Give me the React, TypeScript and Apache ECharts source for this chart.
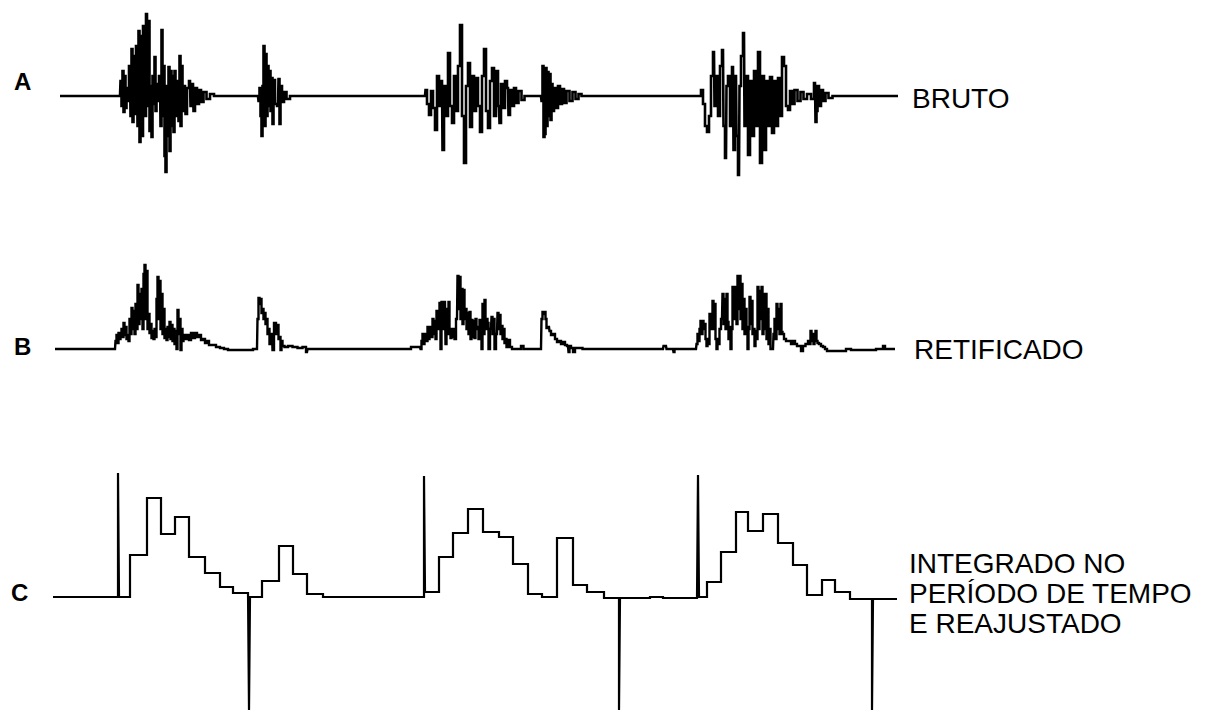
import React, { useEffect, useRef } from "react";
import * as echarts from "echarts";

// Time in ms (x), amplitude in arbitrary units (y)
const traceLetters = ["A", "B", "C"];
const traceTitles = ["BRUTO", "RETIFICADO", "INTEGRADO NO\nPERÍODO DE TEMPO\nE REAJUSTADO"];

// A — raw EMG
const rawBaseStart = [[10, 0], [70, 0]];
const rawBurst1 = [
  [71, 15], [72, -10], [73, 25], [74, -16], [75, 20], [76, -12], [77, 8], [78, -5], [80, 30], [81, -20],
  [82, 47], [83, -26], [84, 40], [85, -18], [87, 50], [88, -30], [89, 65], [90, -46], [91, 60], [92, -40],
  [94, 70], [95, -20], [97, 82], [98, -10], [99, 75], [100, -35], [101, 10], [102, -41], [103, 20], [104, -8],
  [105, 39], [106, -15], [107, 12], [108, -5], [110, 20], [111, -30], [112, 66], [113, -20], [114, 30], [115, -60],
  [116, -76], [117, 10], [118, -40], [119, 29], [120, -55], [121, 25], [122, -30], [123, 20], [124, -36], [125, 25],
  [126, -20], [128, 15], [129, -25], [130, 40], [131, -30], [132, 30], [133, -15], [135, 10], [136, -18], [138, 8],
  [140, 15], [141, -10], [143, 12], [144, -15], [146, 8], [148, -8], [150, 6], [152, -6], [155, 4], [158, -3],
  [162, 2], [166, 0],
];
const rawBurst2 = [
  [208, 0], [209, -5], [210, 8], [211, -20], [212, -40], [213, 10], [214, 50], [215, -30], [216, 42], [217, -20],
  [218, 30], [219, -10], [220, 25], [221, -15], [222, 18], [223, -28], [224, 16], [226, -8], [228, -10], [229, 17],
  [230, -28], [231, 10], [233, -6], [235, 4], [238, -3], [242, 0],
];
const rawBurst3 = [
  [375, 0], [376, 6], [378, -8], [380, -19], [382, 5], [384, -12], [386, -34], [388, 20], [390, -10], [392, 15],
  [393, -54], [395, 10], [397, -20], [399, 43], [401, -10], [403, -27], [405, 20], [407, -15], [409, 30], [411, 71],
  [413, -20], [415, -67], [417, 10], [419, 33], [421, -31], [423, 20], [425, -15], [427, 18], [429, -10], [431, -36],
  [433, 20], [435, 47], [437, -15], [439, -32], [441, 15], [443, 28], [445, -20], [447, 25], [449, -10], [450, -27],
  [452, 12], [454, -12], [456, 15], [458, 8], [459, -19], [461, 6], [463, -10], [465, 8], [467, -7], [470, 5],
  [473, -4], [476, 0],
];
const rawBurst4 = [
  [491, 0], [492, -5], [493, 30], [494, -41], [495, -38], [496, 28], [497, -30], [498, 24], [499, -20], [500, 22],
  [501, -24], [502, 12], [503, -15], [505, 8], [507, -12], [509, 10], [511, -8], [513, 7], [515, -7], [518, 5],
  [521, -5], [524, 4], [527, -3], [530, 2], [533, 0],
];
const rawBurst5 = [
  [650, 0], [652, 6], [654, -8], [656, -30], [658, -36], [660, -20], [662, 20], [664, 44], [665, -10], [667, 20],
  [669, -20], [671, 30], [673, 46], [674, -30], [676, -62], [677, 10], [679, 20], [681, -30], [683, 29], [684, -54],
  [686, 20], [687, -40], [689, -79], [690, 10], [692, 40], [694, 63], [695, -30], [697, 20], [699, -59], [701, 15],
  [703, -40], [705, 25], [707, -30], [709, 44], [711, -67], [713, 20], [715, -54], [717, 15], [719, -30], [721, 19],
  [723, -37], [725, 15], [727, -30], [729, 18], [731, -20], [733, 39], [735, 30], [737, -10], [739, -14], [741, 5],
  [743, -8], [746, 6], [749, -5], [752, 4], [755, -3], [759, 2], [763, -3], [765, 13], [766, -26], [767, -15],
  [768, 10], [770, -10], [772, 6], [774, -5], [777, 3], [780, -2], [785, 0], [848, 0],
];

// B — rectified EMG
const rectBaseStart = [[5, 0], [65, 0]];
const rectBurst1 = [
  [66, 8], [67, 14], [68, 6], [69, 16], [70, 10], [71, 14], [72, 20], [73, 12], [74, 26], [75, 14],
  [76, 22], [77, 10], [78, 14], [79, 8], [80, 30], [81, 15], [82, 41], [83, 20], [84, 38], [85, 15],
  [86, 45], [87, 20], [88, 64], [89, 25], [90, 55], [91, 30], [92, 60], [93, 20], [94, 75], [95, 84],
  [96, 30], [97, 78], [98, 20], [99, 35], [100, 16], [101, 25], [102, 11], [103, 18], [104, 10], [105, 20],
  [106, 12], [107, 50], [108, 72], [109, 30], [110, 68], [111, 20], [112, 55], [113, 15], [114, 40], [115, 11],
  [116, 20], [117, 9], [118, 22], [119, 12], [120, 27], [121, 10], [122, 24], [123, 8], [124, 20], [125, 5],
  [126, 18], [127, 0], [128, 39], [129, 15], [130, 30], [131, -1], [132, 20], [133, 8], [134, 14], [136, 10],
  [138, 14], [140, 9], [142, 16], [144, 11], [146, 16], [148, 12], [150, 14], [152, 9], [154, 10], [156, 6],
  [158, 8], [160, 4], [164, 4], [168, 2], [172, 1], [176, 0], [180, -1], [200, -1], [206, 0],
];
const rectBurst2 = [
  [207, 0], [208, 30], [209, 51], [210, 45], [211, 50], [212, 36], [213, 40], [214, 30], [215, 36], [216, 25],
  [217, 30], [218, 15], [219, 20], [220, 5], [222, 15], [223, -1], [225, 26], [227, 15], [228, 24], [229, 10],
  [230, 12], [231, -1], [232, 8], [233, 3], [236, 2], [240, 3], [245, 2], [250, 1], [255, 2], [257, -3],
  [258, 0], [360, 0],
];
const rectBurst3 = [
  [362, 2], [370, 2], [371, 0], [372, 8], [373, 15], [374, 5], [375, 12], [376, 15], [377, 8], [378, 22],
  [379, 10], [380, 18], [381, 22], [382, 12], [383, 30], [384, 15], [385, 28], [386, 10], [387, 38], [388, 20],
  [389, 30], [390, 46], [391, 0], [392, 47], [393, 20], [395, 47], [396, 5], [397, 40], [398, 15], [399, 47],
  [400, 15], [401, 11], [402, 20], [403, 12], [404, 20], [405, 10], [407, 30], [408, 73], [409, 40], [410, 72],
  [411, 30], [412, 60], [413, 25], [414, 59], [415, 30], [416, 40], [417, 20], [418, 36], [419, 15], [420, 37],
  [421, 10], [422, 29], [423, 12], [424, 28], [425, 11], [426, 30], [427, 20], [428, 22], [429, 10], [430, 29],
  [431, 10], [432, 0], [433, 45], [434, 15], [435, 49], [436, 20], [437, 30], [438, 26], [439, 0], [441, 20],
  [442, 32], [443, 15], [444, 30], [445, 0], [447, 15], [448, 36], [449, 20], [450, 34], [451, 15], [452, 23],
  [453, 10], [454, 20], [455, 6], [456, 10], [457, 2], [459, 9], [461, 2], [463, 0], [470, 0], [472, 3],
  [475, 0], [490, 0],
];
const rectBurst4 = [
  [491, 0], [492, 30], [493, 37], [494, 35], [495, 37], [496, 30], [497, 21], [499, 22], [500, 18], [502, 14],
  [504, 15], [506, 10], [508, 7], [510, 8], [512, 5], [514, 7], [516, 4], [518, 3], [519, -3], [520, 3],
  [522, 1], [524, -3], [526, 1], [530, 1], [535, 0], [613, 0],
];
const rectBurst5 = [
  [614, 3], [616, 3], [617, 0], [623, 0], [624, -3], [625, 0], [646, 0], [647, 5], [648, 15], [649, 8],
  [650, 20], [651, 28], [652, 15], [653, 28], [654, 20], [655, 25], [656, 10], [657, 3], [658, 10], [659, 5],
  [660, 35], [661, 20], [662, 30], [663, 48], [664, 20], [665, 45], [666, 10], [667, 0], [668, 10], [669, 5],
  [670, 20], [672, 30], [673, 55], [674, 25], [675, 50], [676, 20], [677, 55], [678, 27], [679, 10], [680, 22],
  [681, 0], [682, 20], [683, 62], [684, 30], [685, 55], [686, 62], [687, 25], [688, 73], [689, 40], [690, 73],
  [691, 30], [692, 65], [693, 20], [694, 50], [695, 15], [696, 40], [697, 22], [698, 0], [699, 20], [700, 52],
  [701, 25], [702, 48], [703, 15], [704, 20], [705, 3], [706, 18], [707, 10], [708, 62], [709, 20], [710, 58],
  [711, 30], [712, 62], [713, 15], [714, 55], [715, 20], [716, 55], [717, 10], [718, 40], [719, 5], [720, 20],
  [721, 0], [723, 0], [724, 15], [725, 30], [726, 10], [727, 45], [728, 20], [729, 40], [730, 15], [731, 45],
  [732, 17], [733, 15], [735, 10], [737, 8], [740, 8], [742, 5], [744, 8], [746, 5], [748, 3], [750, 3],
  [752, -2], [754, 3], [757, 5], [759, 8], [760, 5], [761, 18], [762, 8], [763, 15], [764, 5], [765, 12],
  [766, 18], [767, 8], [768, 6], [770, 5], [772, 3], [774, 2], [776, 0], [778, -2], [795, -2], [797, 0],
  [805, -1], [820, -1], [832, 0], [834, 3], [836, 0], [845, 0],
];

// C — integrated over time period and reset (step levels with reset spikes)
const integCycle1 = [
  [3, 0], [68, 0], [68, 124], [69, 0], [80, 0], [80, 42], [97, 42], [97, 99], [111, 99], [111, 63],
  [125, 63], [125, 80], [139, 80], [139, 40], [155, 40], [155, 24], [170, 24], [170, 10], [183, 10], [183, 4],
  [198, 4], [199, -113], [200, 0], [212, 0], [212, 16], [229, 16], [229, 51], [243, 51], [243, 23], [257, 23],
  [257, 3], [273, 3], [273, 0],
];
const integCycle2 = [
  [374, 0], [374, 121], [375, 5], [389, 5], [389, 40], [403, 40], [403, 64], [418, 64], [418, 88], [433, 88],
  [433, 65], [449, 65], [449, 60], [463, 60], [463, 33], [478, 33], [478, 3], [492, 3], [492, 0], [507, 0],
  [507, 59], [523, 59], [523, 12], [537, 12], [537, 5], [554, 5], [554, -1], [569, -1], [569, -113], [570, -1],
  [600, -1], [600, 0], [613, 0], [613, -1], [647, -1],
];
const integCycle3 = [
  [648, 122], [649, 0], [657, 0], [657, 15], [671, 15], [671, 45], [686, 45], [686, 85], [698, 85], [698, 66],
  [713, 66], [713, 83], [728, 83], [728, 54], [743, 54], [743, 32], [757, 32], [757, 2], [772, 2], [772, 17],
  [785, 17], [785, 5], [800, 5], [800, -2], [822, -2], [822, -113], [823, -2], [847, -2],
];

const rawA = [...rawBaseStart, ...rawBurst1, ...rawBurst2, ...rawBurst3, ...rawBurst4, ...rawBurst5];
const rectB = [...rectBaseStart, ...rectBurst1, ...rectBurst2, ...rectBurst3, ...rectBurst4, ...rectBurst5];
const integC = [...integCycle1, ...integCycle2, ...integCycle3];

const FONT = "'Liberation Sans', Arial, Helvetica, sans-serif";

export default function App() {
  const ref = useRef<HTMLDivElement | null>(null);
  useEffect(() => {
    if (!ref.current) return;
    const chart = echarts.init(ref.current, undefined, { renderer: "svg" });
    const grids = [
      { left: 50, right: 314, top: 6, height: 180 },
      { left: 50, right: 314, top: 259, height: 100 },
      { left: 50, right: 314, top: 460, height: 250 },
    ].map((g) => ({ ...g, containLabel: false, outerBoundsMode: "none", show: false }));
    const yRanges = [
      [-90, 90],
      [-10, 90],
      [-113, 137],
    ];
    const datasets = [rawA, rectB, integC];
    const steps: any[] = ["middle", "middle", false];
    const widths = [2.6, 2.4, 2.2];
    const option: any = {
      animation: false,
      backgroundColor: "#ffffff",
      textStyle: { fontFamily: FONT },
      grid: grids,
      xAxis: grids.map((_, i) => ({
        type: "value",
        gridIndex: i,
        min: 0,
        max: 850,
        show: false,
        splitLine: { show: false },
      })),
      yAxis: yRanges.map((r, i) => ({
        type: "value",
        gridIndex: i,
        min: r[0],
        max: r[1],
        show: false,
        splitLine: { show: false },
      })),
      series: datasets.map((d, i) => ({
        type: "line",
        name: traceLetters[i],
        xAxisIndex: i,
        yAxisIndex: i,
        data: d,
        step: steps[i],
        showSymbol: false,
        symbol: "none",
        clip: false,
        lineStyle: { color: "#000", width: widths[i], join: "miter", cap: "butt" },
        emphasis: { disabled: true },
      })),
      graphic: [
        { type: "text", left: 14, top: 69, style: { text: traceLetters[0], font: `bold 24px ${FONT}`, fill: "#000" } },
        { type: "text", left: 14, top: 334, style: { text: traceLetters[1], font: `bold 24px ${FONT}`, fill: "#000" } },
        { type: "text", left: 11, top: 580, style: { text: traceLetters[2], font: `bold 24px ${FONT}`, fill: "#000" } },
        {
          type: "text",
          x: 912,
          y: 98,
          style: { text: traceTitles[0], font: `28px ${FONT}`, fill: "#000", verticalAlign: "middle", align: "left" },
        },
        {
          type: "text",
          x: 914,
          y: 349,
          style: { text: traceTitles[1], font: `28px ${FONT}`, fill: "#000", verticalAlign: "middle", align: "left" },
        },
        {
          type: "text",
          x: 909,
          y: 593,
          style: {
            text: traceTitles[2],
            font: `28px ${FONT}`,
            lineHeight: 30,
            fill: "#000",
            verticalAlign: "middle",
            align: "left",
          },
        },
      ],
    };
    chart.setOption(option);
    return () => chart.dispose();
  }, []);
  return (
    <div
      ref={ref}
      style={{ position: "absolute", left: 0, top: 0, width: 1214, height: 710, background: "#fff" }}
    />
  );
}
